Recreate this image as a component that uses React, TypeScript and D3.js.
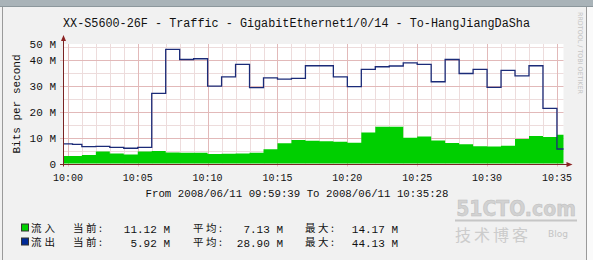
import React from "react";
import * as d3 from "d3";

// ---- data (minutes relative to 10:00) ----
const stepStarts = [-0.35, 0.33, 1, 2, 3, 4, 5, 6, 7, 8, 9, 10, 11, 12, 13, 14, 15, 16, 17, 18, 19, 20, 21, 22, 23, 24, 25, 26, 27, 28, 29, 30, 31, 32, 33, 34, 35];
const endMinute = 35.47;
const inbound = [2.9, 2.9, 3.3, 4.6, 3.9, 3.5, 4.6, 4.8, 4.3, 4.2, 4.2, 3.7, 3.8, 3.9, 4.2, 5.5, 7.8, 9.1, 8.8, 8.6, 8.4, 8.0, 12.0, 14.2, 14.2, 10.0, 10.4, 8.9, 7.9, 7.4, 6.7, 6.6, 6.9, 9.5, 10.6, 10.2, 11.1];
const outbound = [7.6, 7.4, 6.5, 6.6, 6.2, 5.9, 6.2, 27.1, 44.1, 40.2, 40.5, 29.9, 33.5, 38.3, 29.3, 33.1, 32.6, 32.9, 37.8, 37.8, 33.5, 29.7, 36.4, 37.4, 37.7, 38.9, 38.3, 31.6, 40.2, 34.8, 36.4, 29.4, 36.0, 33.9, 37.8, 21.3, 5.6];

const xTickMinutes = [0, 5, 10, 15, 20, 25, 30, 35];
const xTickLabels = ["10:00", "10:05", "10:10", "10:15", "10:20", "10:25", "10:30", "10:35"];
const yTickValues = [0, 10, 20, 30, 40, 50];
const yTickLabels = ["0", "10 M", "20 M", "30 M", "40 M", "50 M"];

const title = "XX-S5600-26F - Traffic - GigabitEthernet1/0/14 - To-HangJiangDaSha";
const subtitle = "From 2008/06/11 09:59:39 To 2008/06/11 10:35:28";
const yAxisTitle = "Bits per second";

const legendNames = ["流入", "流出"];
const legendColors = ["#00CF00", "#002A97"];
const currentVals = [11.12, 5.92];
const avgVals = [7.13, 28.9];
const maxVals = [14.17, 44.13];

// ---- layout ----
const W = 593;
const H = 260;
const PX0 = 63;
const PX1 = 563.5;
const PY0 = 163.5;
const PY1 = 44;
const YMAX = 46.2;

const MONO = "'Liberation Mono', 'DejaVu Sans Mono', monospace";
const CJK = "'Noto Sans CJK SC', sans-serif";

export default function App() {
  const x = d3.scaleLinear().domain([stepStarts[0], endMinute]).range([PX0, PX1]);
  const y = d3.scaleLinear().domain([0, YMAX]).range([PY0, PY1]);

  const mk = (vals: number[]) => {
    const pts = stepStarts.map((t, i) => ({ t, v: vals[i] }));
    pts.push({ t: endMinute, v: vals[vals.length - 1] });
    return pts;
  };
  const inPts = mk(inbound);
  const outPts = mk(outbound);

  const area = d3
    .area<{ t: number; v: number }>()
    .x((d) => x(d.t))
    .y0(y(0))
    .y1((d) => y(d.v))
    .curve(d3.curveStepAfter);
  const line = d3
    .line<{ t: number; v: number }>()
    .x((d) => x(d.t))
    .y((d) => y(d.v))
    .curve(d3.curveStepAfter);

  const minuteGrid = d3.range(0, 36).filter((m) => m % 5 !== 0);
  const hMinor = [5, 15, 25, 35, 45];
  const hMajor = [10, 20, 30, 40];

  const fmt = (v: number) => v.toFixed(2) + " M";

  return (
    <svg width={W} height={H} style={{ display: "block", position: "absolute", left: 0, top: 0 }}>
      <rect x={0} y={0} width={W} height={H} fill="#f1f1f1" />
      <rect x={0} y={0} width={W} height={6} fill="#a9b3b8" />
      <line x1={0} x2={W} y1={6.5} y2={6.5} stroke="#8c979c" />
      <line x1={2.5} x2={2.5} y1={7} y2={H} stroke="#9a9a9a" />
      <rect x={587} y={7} width={6} height={H - 7} fill="#fafafa" />
      <line x1={586.5} x2={586.5} y1={7} y2={H} stroke="#9a9a9a" />

      {/* title */}
      <text x={63} y={27} fontFamily={MONO} fontSize={12} textLength={467} lengthAdjust="spacingAndGlyphs" fill="#111">
        {title}
      </text>

      {/* plot */}
      <rect x={PX0} y={PY1} width={PX1 - PX0} height={PY0 - PY1} fill="#ffffff" />
      {minuteGrid.map((m) => (
        <line key={"vm" + m} x1={Math.round(x(m)) + 0.5} x2={Math.round(x(m)) + 0.5} y1={PY1} y2={PY0} stroke="#eddcdc" strokeWidth={1} />
      ))}
      {hMinor.map((v) => (
        <line key={"hm" + v} x1={PX0} x2={PX1} y1={Math.round(y(v)) + 0.5} y2={Math.round(y(v)) + 0.5} stroke="#eddcdc" strokeWidth={1} />
      ))}
      {xTickMinutes.map((m) => (
        <line key={"vM" + m} x1={Math.round(x(m)) + 0.5} x2={Math.round(x(m)) + 0.5} y1={PY1} y2={PY0 + 3} stroke="#e2b9b9" strokeWidth={1} />
      ))}
      {hMajor.map((v) => (
        <line key={"hM" + v} x1={PX0 - 3} x2={PX1} y1={Math.round(y(v)) + 0.5} y2={Math.round(y(v)) + 0.5} stroke="#e2b9b9" strokeWidth={1} />
      ))}

      <path d={area(inPts) || ""} fill="#00CF00" />
      <path d={line(outPts) || ""} fill="none" stroke="#1b2b78" strokeWidth={1.3} />

      {/* axes */}
      <line x1={PX0 + 0.5} x2={PX0 + 0.5} y1={PY0 + 3} y2={PY1 - 4} stroke="#7a2323" strokeWidth={1} />
      <line x1={PX0 - 3} x2={PX1 + 5} y1={Math.round(PY0) + 0.5} y2={Math.round(PY0) + 0.5} stroke="#7a2323" strokeWidth={1} />
      <path d={`M${PX0 - 2},${PY1 - 3} L${PX0 + 3},${PY1 - 3} L${PX0 + 0.5},${PY1 - 9} Z`} fill="#8b2323" />
      <path d={`M${PX1 + 3},${Math.round(PY0) - 2} L${PX1 + 3},${Math.round(PY0) + 3} L${PX1 + 9},${Math.round(PY0) + 0.5} Z`} fill="#8b2323" />

      {/* y labels */}
      {yTickValues.map((v, i) => (
        <text key={"yl" + v} x={56} y={y(Math.min(v, YMAX)) + 4} textAnchor="end" fontFamily={MONO} fontSize={11} fill="#111">
          {yTickLabels[i]}
        </text>
      ))}
      <text transform={`translate(20,104) rotate(-90)`} textAnchor="middle" fontFamily={MONO} fontSize={11} fill="#111">
        {yAxisTitle}
      </text>

      {/* x labels */}
      {xTickMinutes.map((m, i) => (
        <text key={"xl" + m} x={x(m)} y={181} textAnchor="middle" fontFamily={MONO} fontSize={10} fill="#111">
          {xTickLabels[i]}
        </text>
      ))}
      <text x={297} y={197} textAnchor="middle" fontFamily={MONO} fontSize={11} textLength={303} lengthAdjust="spacingAndGlyphs" fill="#111">
        {subtitle}
      </text>

      {/* rrdtool watermark */}
      <text
        transform={`translate(578,12) rotate(90)`}
        fontFamily="'DejaVu Sans', sans-serif"
        fontSize={6.5}
        fill="#c4c4c4"
        textLength={82}
        lengthAdjust="spacingAndGlyphs"
      >
        RRDTOOL / TOBI OETIKER
      </text>

      {/* 51cto watermark */}
      <text x={516} y={216} textAnchor="middle" fontFamily="'DejaVu Sans Condensed', 'DejaVu Sans', sans-serif" fontStretch="condensed" fontWeight="bold" fontSize={21} fill="#d2d2d2" stroke="#bdbdbd" strokeWidth={0.5}>
        51CTO.com
      </text>
      <line x1={455} x2={577} y1={220.5} y2={220.5} stroke="#c6c6c6" strokeWidth={2} />
      <text x={455} y={241} fontFamily={CJK} fontSize={16} fill="#cccccc" letterSpacing={3}>
        技术博客
      </text>
      <text x={548} y={237} fontFamily="'DejaVu Sans', sans-serif" fontSize={9} fill="#c4c4c4">
        Blog
      </text>

      {/* legend */}
      {legendNames.map((name, i) => {
        const cy = 228.5 + i * 14;
        return (
          <g key={name}>
            <rect x={21.5} y={cy - 4.5} width={7} height={7} fill={legendColors[i]} stroke="#333" strokeWidth={1} />
            <text x={31} y={cy + 3.5} fontFamily={CJK} fontSize={10.5} fill="#111" letterSpacing={3}>
              {name}
            </text>
            <text x={73} y={cy + 3.5} fontFamily={CJK} fontSize={10.5} fill="#111" letterSpacing={2.5}>
              当前:
            </text>
            <text x={170} y={cy + 4} textAnchor="end" fontFamily={MONO} fontSize={11} fill="#111">
              {fmt(currentVals[i])}
            </text>
            <text x={193} y={cy + 3.5} fontFamily={CJK} fontSize={10.5} fill="#111" letterSpacing={2.5}>
              平均:
            </text>
            <text x={283} y={cy + 4} textAnchor="end" fontFamily={MONO} fontSize={11} fill="#111">
              {fmt(avgVals[i])}
            </text>
            <text x={305} y={cy + 3.5} fontFamily={CJK} fontSize={10.5} fill="#111" letterSpacing={2.5}>
              最大:
            </text>
            <text x={398} y={cy + 4} textAnchor="end" fontFamily={MONO} fontSize={11} fill="#111">
              {fmt(maxVals[i])}
            </text>
          </g>
        );
      })}
    </svg>
  );
}
